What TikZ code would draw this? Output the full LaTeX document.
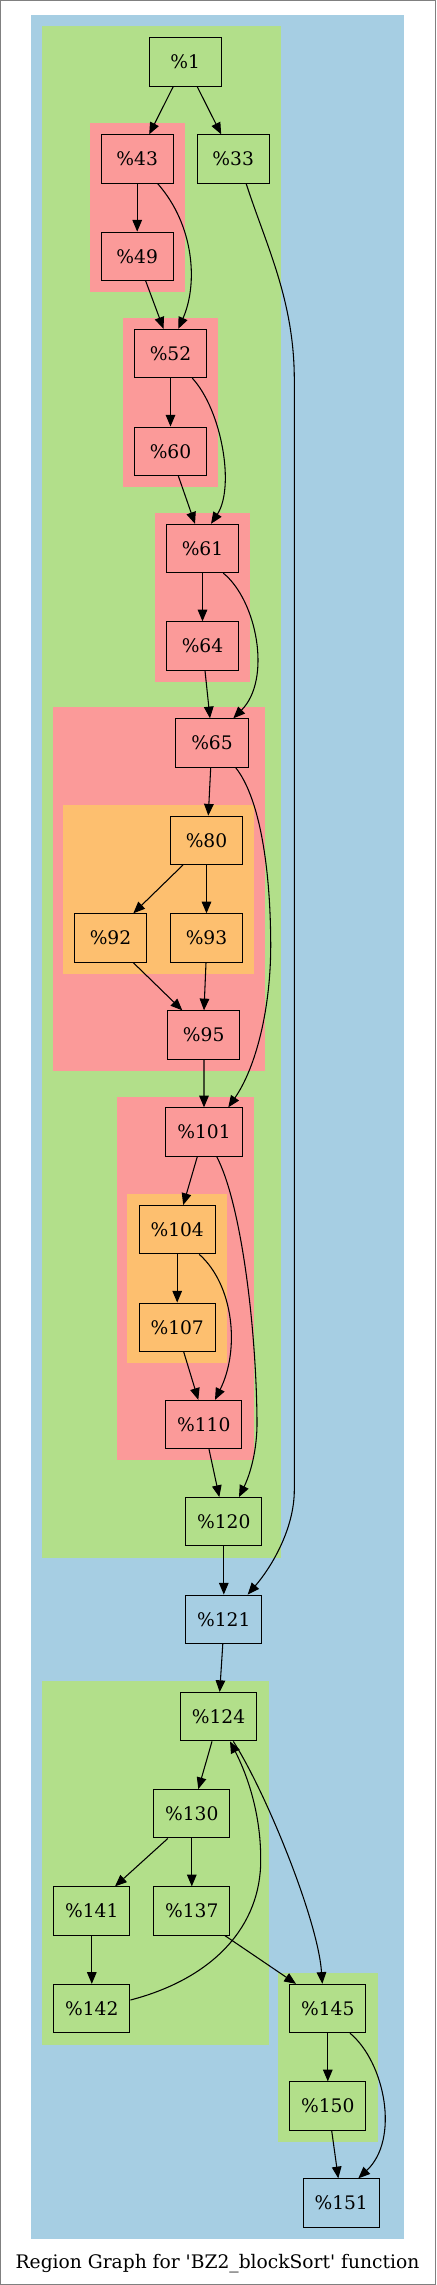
\documentclass[tikz,border=0pt]{standalone}
\usepackage{fontspec}
\setmainfont{DejaVu Serif}
\newfontfamily\capfont{DejaVu Serif}
\usetikzlibrary{arrows.meta,calc}
\definecolor{blueC}{HTML}{A6CEE3}
\definecolor{greenC}{HTML}{B2DF8A}
\definecolor{redC}{HTML}{FB9A99}
\definecolor{orangeC}{HTML}{FDBF6F}
\begin{document}
\begin{tikzpicture}[x=0.75pt,y=-0.75pt,font=\fontsize{14}{16}\selectfont,
  nd/.style={draw=black,line width=0.8pt,minimum width=54.2pt,minimum height=36.2pt,inner sep=0pt},
  wd/.style={minimum width=57.2pt},
  ed/.style={draw=black,line width=0.8pt,-{Triangle[length=8.8pt,width=7.2pt]}}]
\useasboundingbox (0,0) rectangle (436,2285);
\draw[gray,line width=1pt] (0.6,0.6) rectangle (435.4,2284.4);
% clusters
\fill[blueC] (31.3,15.3) rectangle (404.3,2239);
\fill[greenC] (42,26) rectangle (281,1557.7);
\fill[redC] (90,123.3) rectangle (184.7,292.3);
\fill[redC] (123.3,318) rectangle (217.7,487);
\fill[redC] (155.3,512.7) rectangle (250,681.7);
\fill[redC] (53,707) rectangle (264.7,1071);
\fill[orangeC] (63.3,804.7) rectangle (254,973.7);
\fill[redC] (116.7,1096.7) rectangle (254,1460.3);
\fill[orangeC] (127.3,1193.7) rectangle (227,1363);
\fill[greenC] (42,1681) rectangle (268.7,2044.7);
\fill[greenC] (278.3,1972.7) rectangle (377.7,2141.7);
% nodes
\node[nd,fill=greenC] (n1) at (185.2,62) {\%1};
\node[nd,fill=redC] (n43) at (137.2,159) {\%43};
\node[nd,fill=greenC] (n33) at (233.2,159) {\%33};
\node[nd,fill=redC] (n49) at (137.2,256.3) {\%49};
\node[nd,fill=redC] (n52) at (170.5,353.5) {\%52};
\node[nd,fill=redC] (n60) at (170.5,451.2) {\%60};
\node[nd,fill=redC] (n61) at (202.5,548.5) {\%61};
\node[nd,fill=redC] (n64) at (202.5,646) {\%64};
\node[nd,fill=redC] (n65) at (212,743) {\%65};
\node[nd,fill=orangeC] (n80) at (206.5,840.3) {\%80};
\node[nd,fill=orangeC] (n92) at (110.5,938) {\%92};
\node[nd,fill=orangeC] (n93) at (206.5,938) {\%93};
\node[nd,fill=redC] (n95) at (203.7,1035) {\%95};
\node[nd,wd,fill=redC] (n101) at (204,1132) {\%101};
\node[nd,wd,fill=orangeC] (n104) at (177.2,1229.7) {\%104};
\node[nd,wd,fill=orangeC] (n107) at (177.2,1327.2) {\%107};
\node[nd,wd,fill=redC] (n110) at (203.8,1424.5) {\%110};
\node[nd,wd,fill=greenC] (n120) at (223.8,1521.7) {\%120};
\node[nd,wd,fill=blueC] (n121) at (223.8,1619.2) {\%121};
\node[nd,wd,fill=greenC] (n124) at (218.5,1716.7) {\%124};
\node[nd,wd,fill=greenC] (n130) at (191.8,1813.8) {\%130};
\node[nd,wd,fill=greenC] (n141) at (91.8,1911) {\%141};
\node[nd,wd,fill=greenC] (n137) at (191.8,1911) {\%137};
\node[nd,wd,fill=greenC] (n142) at (91.8,2008.5) {\%142};
\node[nd,wd,fill=greenC] (n145) at (327.8,2008.5) {\%145};
\node[nd,wd,fill=greenC] (n150) at (327.8,2106) {\%150};
\node[nd,wd,fill=blueC] (n151) at (341.2,2203) {\%151};
\node[font=\capfont\fontsize{14}{16}\selectfont] (cap) at (217.5,2263.5) {Region Graph for 'BZ2\_blockSort' function};
% helper coordinates
\coordinate (k33a) at (294.3,380);
\coordinate (k33b) at (294.3,1490);
\coordinate (k65) at (270.7,940);
\coordinate (k101) at (257,1420);
\coordinate (k142) at (260.7,1860);
% edges
\draw[ed] ($(n1.south)+(-12,0)$) -- ($(n43.north)+(12,0)$);
\draw[ed] ($(n1.south)+(12,0)$) -- ($(n33.north)+(-12,0)$);
\draw[ed] (n43.south) -- (n49.north);
\draw[ed] ($(n43.south)+(20.5,0)$) .. controls +(37,42) and +(19.7,-44.3) .. ($(n52.north)+(7.8,0)$);
\draw[ed] ($(n49.south)+(8.5,0)$) -- ($(n52.north)+(-7,0)$);
\draw[ed] ($(n33.south)+(13,0)$) .. controls +(20,62) and +(0,-80) .. (k33a) -- (k33b) .. controls +(0,40) and +(22.6,-26) .. ($(n121.north)+(23.9,0)$);
\draw[ed] (n52.south) -- (n60.north);
\draw[ed] ($(n52.south)+(21.8,0)$) .. controls +(29.7,32.3) and +(24,-36.3) .. ($(n61.north)+(8.5,0)$);
\draw[ed] ($(n60.south)+(7.8,0)$) -- ($(n61.north)+(-7.5,0)$);
\draw[ed] (n61.south) -- (n64.north);
\draw[ed] ($(n61.south)+(20.8,0)$) .. controls +(33.7,27.3) and +(38.7,-38.7) .. ($(n65.north)+(21.3,0)$);
\draw[ed] ($(n64.south)+(2.5,0)$) -- ($(n65.north)+(-2,0)$);
\draw[ed] ($(n65.south)+(-1.3,0)$) -- ($(n80.north)+(1.8,0)$);
\draw[ed] ($(n65.south)+(23.7,0)$) .. controls +(22.3,28) and +(-0.7,-80) .. (k65) .. controls +(0.8,70) and +(26.7,-38.3) .. ($(n101.north)+(24.3,0)$);
\draw[ed] ($(n80.south)+(-23.5,0)$) -- ($(n92.north)+(22.8,0)$);
\draw[ed] (n80.south) -- (n93.north);
\draw[ed] ($(n92.south)+(22.8,0)$) -- ($(n95.north)+(-21.4,0)$);
\draw[ed] ($(n93.south)+(-0.5,0)$) -- ($(n95.north)+(0.3,0)$);
\draw[ed] ($(n95.south)+(0.3,0)$) -- (n101.north);
\draw[ed] ($(n101.south)+(-6.7,0)$) -- ($(n104.north)+(6,0)$);
\draw[ed] ($(n101.south)+(12.7,0)$) .. controls +(23.3,44) and +(-1,-100) .. (k101) .. controls +(0.5,30) and +(11,-22.3) .. ($(n120.north)+(15.2,0)$);
\draw[ed] (n104.south) -- (n107.north);
\draw[ed] ($(n104.south)+(22.1,0)$) .. controls +(34.7,31) and +(25,-50) .. ($(n110.north)+(11.2,0)$);
\draw[ed] ($(n107.south)+(6.5,0)$) -- ($(n110.north)+(-5.5,0)$);
\draw[ed] ($(n110.south)+(5.2,0)$) -- ($(n120.north)+(-4.5,0)$);
\draw[ed] (n120.south) -- (n121.north);
\draw[ed] ($(n121.south)+(-1,0)$) -- ($(n124.north)+(1.2,0)$);
\draw[ed] ($(n124.south)+(-6.5,0)$) -- ($(n130.north)+(6.5,0)$);
\draw[ed] ($(n124.south)+(14.8,0)$) .. controls +(31.7,49) and +(-4.3,-64.3) .. ($(n145.north)+(-5.5,0)$);
\draw[ed] ($(n142.east)+(0,-8.5)$) .. controls +(84.3,-22) and +(0.3,65) .. (k142) .. controls +(0.3,-50) and +(15,29) .. ($(n124.south)+(11.5,0)$);
\draw[ed] ($(n130.south)+(-24,0)$) -- ($(n141.north)+(23.2,0)$);
\draw[ed] (n130.south) -- (n137.north);
\draw[ed] (n141.south) -- (n142.north);
\draw[ed] ($(n137.south)+(33.2,0)$) -- ($(n145.north)+(-31.8,0)$);
\draw[ed] (n145.south) -- (n150.north);
\draw[ed] ($(n145.south)+(22.2,0)$) .. controls +(35,29.3) and +(41.7,-39) .. ($(n151.north)+(17.1,0)$);
\draw[ed] ($(n150.south)+(3.9,0)$) -- ($(n151.north)+(-2.9,0)$);
\end{tikzpicture}
\end{document}
